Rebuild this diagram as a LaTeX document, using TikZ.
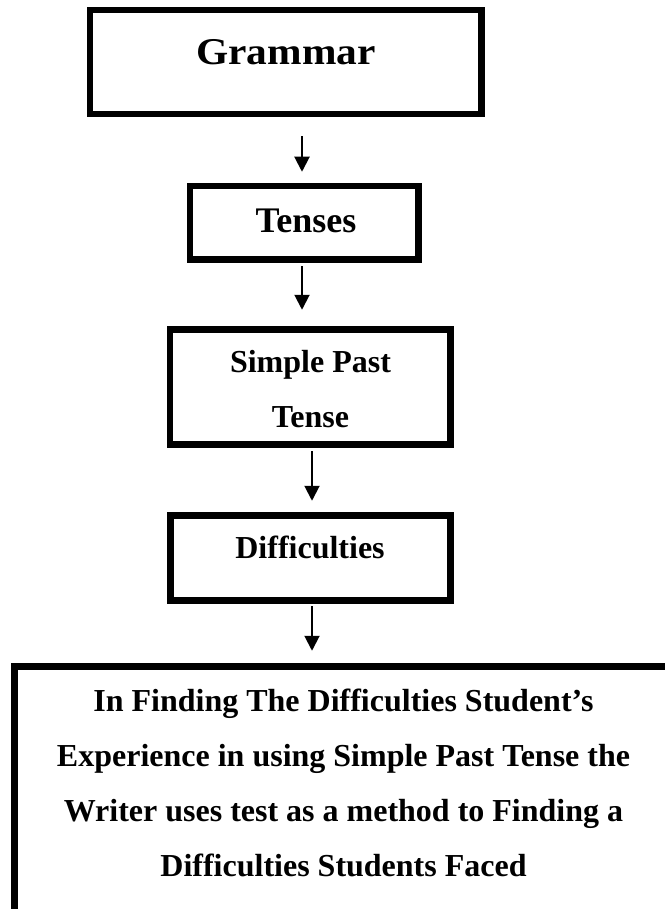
\documentclass[tikz,border=0pt]{standalone}
\usepackage{fontspec}
\usepackage{graphicx}
\setmainfont{Liberation Serif}
\usetikzlibrary{arrows.meta,calc}
\begin{document}
\begin{tikzpicture}[x=1pt,y=-1pt,
  box/.style={draw,line width=6.5pt,inner sep=0pt},
  lbl/.style={anchor=base,align=center,inner sep=0pt},
  arr/.style={-{Triangle[width=15pt,length=15pt]},line width=2pt}]
\useasboundingbox (0,0) rectangle (664,909);
\fill[white] (0,0) rectangle (664,909);
% boxes
\node[box,minimum width=391.5pt,minimum height=104pt] (g) at (285.75,62) {};
\node[box,minimum width=228.5pt,minimum height=73.5pt] (t) at (304.25,222.75) {};
\node[box,minimum width=280.5pt,minimum height=115pt] (sp) at (310.25,387) {};
\node[box,minimum width=280pt,minimum height=85pt] (d) at (310.5,558) {};
\node[box,minimum width=657.5pt,minimum height=263.5pt] (b) at (343.25,798.25) {};
% texts
\node[lbl,font=\bfseries\fontsize{36}{40}\selectfont] (gt) at (286,65) {\scalebox{1.15}[1.05]{Grammar}};
\node[lbl,font=\bfseries\fontsize{36}{40}\selectfont] (tt) at (306,233) {Tenses};
\node[lbl,font=\bfseries\fontsize{32}{55}\selectfont] (spt) at (310.5,427) {Simple Past\\Tense};
\node[lbl,font=\bfseries\fontsize{32}{40}\selectfont] (dt) at (310,558) {Difficulties};
\node[lbl,font=\bfseries\fontsize{32}{55}\selectfont] (bt) at (343.5,876) {In Finding The Difficulties Student’s\\Experience in using Simple Past Tense the\\Writer uses test as a method to Finding a\\Difficulties Students Faced};
% arrows
\draw[arr] ($(g.south)+(16.25,19)$) -- ($(t.north)+(-2.25,-11)$);
\draw[arr] ($(t.south)+(-2.25,3.5)$) -- ($(sp.north)+(-8.25,-16.5)$);
\draw[arr] ($(sp.south)+(1.75,3.5)$) -- ($(d.north)+(1.5,-11.5)$);
\draw[arr] ($(d.south)+(1.5,2.5)$) -- ($(b.north)+(-31.25,-12.5)$);
\end{tikzpicture}
\end{document}
